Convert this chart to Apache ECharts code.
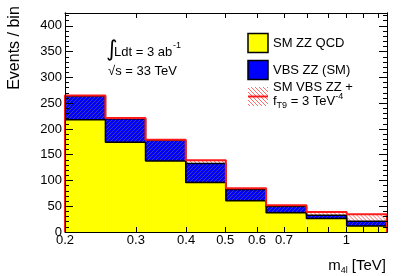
<!DOCTYPE html>
<html><head><meta charset="utf-8">
<script src="https://cdn.jsdelivr.net/npm/echarts@6/dist/echarts.min.js"></script>
<style>html,body{margin:0;padding:0;background:#fff}#c{width:407px;height:276px}</style>
</head><body><div id="c"></div>
<script>
// ---- data ----
const binEdges = [0.2, 0.252, 0.317, 0.399, 0.502, 0.632, 0.796, 1.002, 1.262]; // TeV
const smZZQCD   = [218, 174, 138, 96, 60.5, 37.5, 26, 11.5];
const vbsZZSM   = [46, 46, 40, 37, 22, 12.5, 6.5, 9.5];
const vbsZZfT9  = [47, 47, 41, 43, 24.5, 14.5, 13, 23];
const xLabelValues = [0.2, 0.3, 0.4, 0.5, 0.6, 0.7, 1];
const xTickValues  = [0.2, 0.3, 0.4, 0.5, 0.6, 0.7, 0.8, 0.9, 1, 1.1, 1.2];
const yMajorTicks  = [0, 50, 100, 150, 200, 250, 300, 350, 400];
const yMinorTicks  = [0,10,20,30,40,50,60,70,80,90,100,110,120,130,140,150,160,170,180,190,200,210,220,230,240,250,260,270,280,290,300,310,320,330,340,350,360,370,380,390,400,410,420];
const yMax = 425;

const FONT = '"Liberation Sans", Arial, Helvetica, sans-serif';
const L = Math.log10;
const HATCH_RED = '#ff6a6a';

function hatch(bg, line, size) {
  const c = document.createElement('canvas');
  c.width = size; c.height = size;
  const g = c.getContext('2d');
  g.fillStyle = bg; g.fillRect(0, 0, size, size);
  g.fillStyle = line;
  for (let x = 0; x < size; x++) {
    for (let y = 0; y < size; y++) {
      if ((x + y) % size === size - 1) g.fillRect(x, y, 1, 1);
    }
  }
  return c;
}
const bluePattern = { image: hatch('#0000ff', '#3c3cb4', 4), repeat: 'repeat' };

// "/" hatch lines inside a rectangle (pixel box), as line elements
function hatchLines(x0, yTop, w, h, step, color) {
  const out = [];
  const yb = yTop + h;
  const phase = (x0 + yb) % step;
  for (let c = step - phase; c < w + h; c += step) {
    const u1 = Math.max(0, c - h), u2 = Math.min(w, c);
    if (u2 <= u1) continue;
    out.push({ type: 'line', shape: { x1: x0 + u1, y1: yb - (c - u1), x2: x0 + u2, y2: yb - (c - u2) },
               style: { stroke: color, lineWidth: 1 } });
  }
  return out;
}

const stackSM  = smZZQCD.map((v, i) => v + vbsZZSM[i]);
const stackFT9 = smZZQCD.map((v, i) => v + vbsZZfT9[i]);

function rows(lo, hi) {
  return lo.map((v, i) => [L(binEdges[i]), L(binEdges[i + 1]), v, hi[i]]);
}
function rectRender(fill) {
  return function (params, api) {
    const p0 = api.coord([api.value(0), api.value(2)]);
    const p1 = api.coord([api.value(1), api.value(3)]);
    return { type: 'rect', shape: { x: p0[0], y: p1[1], width: p1[0] - p0[0], height: p0[1] - p1[1] },
             style: { fill: fill } };
  };
}
function hatchRender(params, api) {
  const p0 = api.coord([api.value(0), api.value(2)]);
  const p1 = api.coord([api.value(1), api.value(3)]);
  return { type: 'group', children: hatchLines(p0[0], p1[1], p1[0] - p0[0], p0[1] - p1[1], 4, HATCH_RED) };
}
function stepLine(vals) {
  const pts = [[L(binEdges[0]), 0]];
  vals.forEach((v, i) => { pts.push([L(binEdges[i]), v]); pts.push([L(binEdges[i + 1]), v]); });
  pts.push([L(binEdges[binEdges.length - 1]), 0]);
  return pts;
}

const xMin = L(binEdges[0]), xMax = L(binEdges[binEdges.length - 1]);
const axisLine = { show: true, onZero: false, lineStyle: { color: '#000', width: 1 } };
function xAx(pos, labels) {
  return {
    type: 'value', position: pos, min: xMin, max: xMax, z: 10,
    axisLine: axisLine,
    axisTick: { show: true, inside: true, length: 5, customValues: xTickValues.map(L), lineStyle: { color: '#000' } },
    axisLabel: labels ? { show: true, customValues: xLabelValues.map(L), margin: 2,
      formatter: v => String(+Math.pow(10, v).toFixed(2)), color: '#000', fontSize: 13, fontFamily: FONT } : { show: false },
    splitLine: { show: false }
  };
}
function yAx(pos, ticks, len, labels) {
  return {
    type: 'value', position: pos, min: 0, max: yMax, z: 10,
    axisLine: axisLine,
    axisTick: { show: true, inside: true, length: len, customValues: ticks, lineStyle: { color: '#000' } },
    axisLabel: labels ? { show: true, customValues: yMajorTicks, margin: 3, color: '#000', fontSize: 13, fontFamily: FONT } : { show: false },
    splitLine: { show: false }
  };
}

const chart = echarts.init(document.getElementById('c'), null, { renderer: 'canvas' });
chart.setOption({
  animation: false,
  backgroundColor: '#fff',
  grid: { left: 65, right: 20, top: 13, bottom: 44 },
  xAxis: [xAx('bottom', true), xAx('top', false)],
  yAxis: [yAx('left', yMajorTicks, 8, true), yAx('left', yMinorTicks, 4, false),
          yAx('right', yMajorTicks, 8, false), yAx('right', yMinorTicks, 4, false)],
  series: [
    { type: 'custom', name: 'SM VBS ZZ + fT9', renderItem: hatchRender, data: rows(stackSM, stackFT9),
      encode: { x: [0, 1], y: [2, 3] }, z: 2 },
    { type: 'custom', name: 'VBS ZZ (SM)', renderItem: rectRender(bluePattern), data: rows(smZZQCD, stackSM),
      encode: { x: [0, 1], y: [2, 3] }, z: 3 },
    { type: 'custom', name: 'SM ZZ QCD', renderItem: rectRender('#ffff00'), data: rows(smZZQCD.map(() => 0), smZZQCD),
      encode: { x: [0, 1], y: [2, 3] }, z: 4 },
    { type: 'line', data: stepLine(smZZQCD), symbol: 'none', lineStyle: { color: '#000', width: 1.5 }, z: 5 },
    { type: 'line', data: stepLine(stackSM), symbol: 'none', lineStyle: { color: '#000', width: 1.5 }, z: 6 },
    { type: 'line', data: stepLine(stackFT9), symbol: 'none', lineStyle: { color: '#ff1a1a', width: 2 }, z: 7 }
  ],
  graphic: [
    { type: 'text', x: 15, y: 48, rotation: Math.PI / 2,
      style: { text: 'Events / bin', font: '16px ' + FONT, fill: '#000', align: 'center', verticalAlign: 'middle' } },
    { type: 'text', x: 386, y: 266,
      style: { text: '{a|m}{b|4l}{a| [TeV]}', align: 'right', verticalAlign: 'middle', fill: '#000',
        rich: { a: { fontSize: 15, fontFamily: FONT, lineHeight: 18, verticalAlign: 'middle' },
                b: { fontSize: 9, fontFamily: FONT, lineHeight: 18, verticalAlign: 'bottom' } } } },
    { type: 'text', x: 106, y: 50,
      style: { text: '∫', font: '22px "DejaVu Sans", sans-serif', fill: '#000', verticalAlign: 'middle' } },
    { type: 'text', x: 114, y: 52,
      style: { text: 'Ldt = 3 ab', font: '13px ' + FONT, fill: '#000', verticalAlign: 'middle' } },
    { type: 'text', x: 173, y: 46,
      style: { text: '-1', font: '9px ' + FONT, fill: '#000', verticalAlign: 'middle' } },
    { type: 'text', x: 108, y: 71,
      style: { text: '√s = 33 TeV', font: '13px ' + FONT, fill: '#000', verticalAlign: 'middle' } },
    // legend
    { type: 'rect', shape: { x: 248, y: 33.5, width: 20, height: 19 }, style: { fill: '#ffff00', stroke: '#000', lineWidth: 1.5 } },
    { type: 'text', x: 273, y: 43.5, style: { text: 'SM ZZ QCD', font: '13px ' + FONT, fill: '#000', verticalAlign: 'middle' } },
    { type: 'rect', shape: { x: 248, y: 60.5, width: 20, height: 19 }, style: { fill: '#0000ff', stroke: '#000', lineWidth: 1.5 } },
    { type: 'text', x: 273, y: 70, style: { text: 'VBS ZZ (SM)', font: '13px ' + FONT, fill: '#000', verticalAlign: 'middle' } },
    { type: 'group', children: hatchLines(248, 87, 20, 19, 4, HATCH_RED) },
    { type: 'line', shape: { x1: 248, y1: 96.5, x2: 268, y2: 96.5 }, style: { stroke: '#ff1a1a', lineWidth: 2 } },
    { type: 'text', x: 273, y: 87.5, style: { text: 'SM VBS ZZ +', font: '13px ' + FONT, fill: '#000', verticalAlign: 'middle' } },
    { type: 'text', x: 273, y: 101,
      style: { text: '{a|f}{b|T9}{a| = 3 TeV}{c|-4}', fill: '#000', verticalAlign: 'middle',
        rich: { a: { fontSize: 13, fontFamily: FONT, lineHeight: 18, verticalAlign: 'middle' },
                b: { fontSize: 9, fontFamily: FONT, lineHeight: 18, verticalAlign: 'bottom' },
                c: { fontSize: 9, fontFamily: FONT, lineHeight: 18, verticalAlign: 'top' } } } }
  ]
});
</script>
</body></html>
